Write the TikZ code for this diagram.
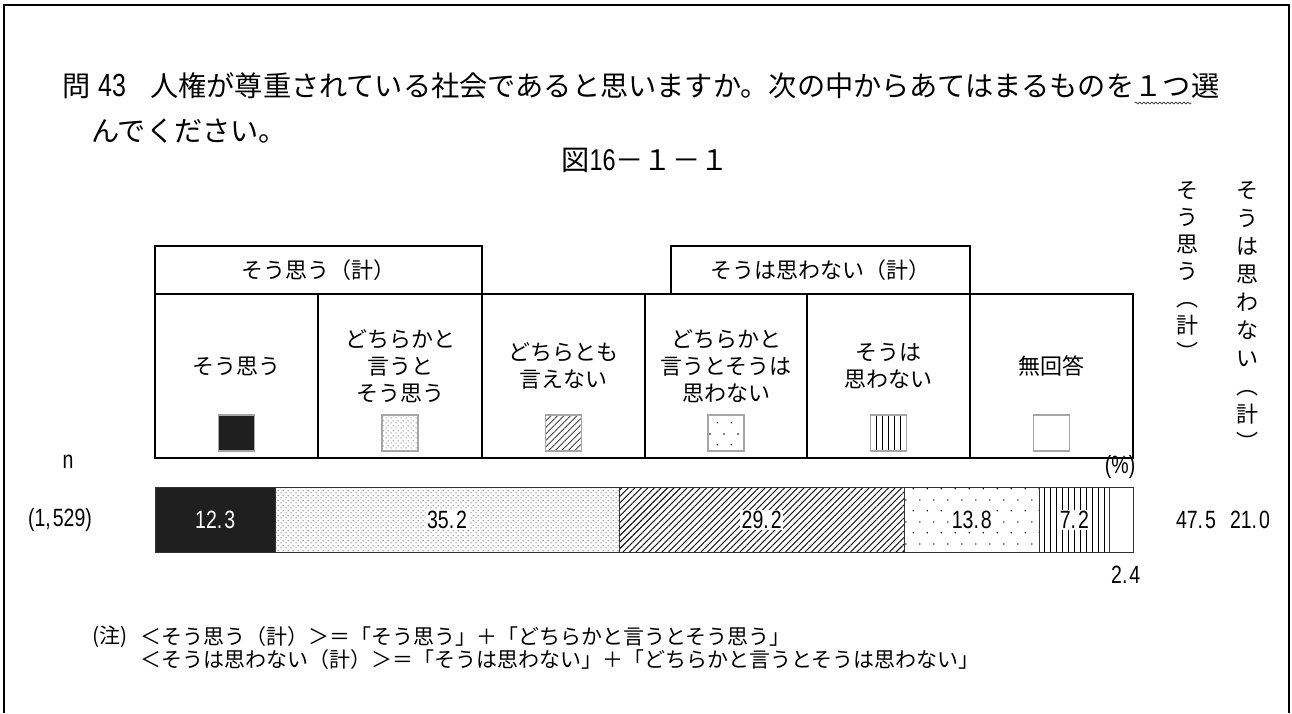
\documentclass[tikz,border=0pt]{standalone}
\usepackage{fontspec}
\setmainfont{Noto Sans CJK JP}
\newfontfamily\num[FakeStretch=0.78]{Liberation Sans}
\usetikzlibrary{patterns,patterns.meta,decorations.pathmorphing,calc}
\pgfdeclarepatternformonly{densedots}{\pgfqpoint{0pt}{0pt}}{\pgfqpoint{5pt}{5pt}}{\pgfqpoint{5pt}{5pt}}{%
  \pgfpathcircle{\pgfqpoint{1.25pt}{1.25pt}}{0.6pt}%
  \pgfpathcircle{\pgfqpoint{3.75pt}{3.75pt}}{0.6pt}%
  \pgfusepath{fill}}
\pgfdeclarepatternformonly{sparsedots}{\pgfqpoint{0pt}{0pt}}{\pgfqpoint{14pt}{22pt}}{\pgfqpoint{14pt}{22pt}}{%
  \pgfpathcircle{\pgfqpoint{3.5pt}{5.5pt}}{0.85pt}%
  \pgfpathcircle{\pgfqpoint{10.5pt}{16.5pt}}{0.85pt}%
  \pgfusepath{fill}}
\tikzset{
  frame/.style={line width=2.5pt},
  box/.style={draw, line width=2.2pt, inner sep=0},
  swatch/.style={draw=black!35, line width=1.6pt, minimum size=36pt, inner sep=0},
  lbl/.style={font=\fontsize{22}{27}\selectfont, align=center, inner sep=0},
  vlbl/.style={font=\fontsize{22}{27}\selectfont, align=center, inner sep=0, anchor=north},
  ttl/.style={font=\fontsize{28.2}{32}\selectfont, inner sep=0, anchor=base west},
  val/.style={font=\num\fontsize{25}{28}\selectfont, inner sep=1.5pt},
  seg/.style={draw=black!80, line width=0.8pt},
  note/.style={font=\fontsize{21}{24}\selectfont, inner sep=0, anchor=west},
  diag/.style={pattern={Lines[angle=45,distance=4.6pt,line width=0.9pt]}},
  vert/.style={pattern={Lines[angle=90,distance=6pt,line width=1pt]}},
}
\begin{document}
\begin{tikzpicture}[x=1pt,y=-1pt]
\useasboundingbox (0,0) rectangle (1292,713);
% outer frame (open at the bottom)
\draw[frame] (4,713) -- (4,5) -- (1289,5) -- (1289,713);

% title
\node[ttl] (q) at (62,96) {問};
\node[ttl, font=\num\fontsize{32}{34}\selectfont] (qn) at (98,96) {43};
\node[ttl] (tA) at (150,96) {人権が尊重されている社会であると思いますか。次の中からあてはまるものを};
\node[ttl] (tB) at (tA.base east) {１つ};
\node[ttl] (tC) at (tB.base east) {選};
\draw[decorate, decoration={snake, amplitude=1pt, segment length=4pt}, line width=0.6pt, draw=black!80]
  ($(tB.base west)+(0,7)$) -- ($(tB.base east)+(0,7)$);
\node[ttl] (t2) at (91,141) {んでください。};
\node[font=\fontsize{28.2}{32}\selectfont, inner sep=0] (fig) at (645,160) {図{\num\fontsize{30}{32}\selectfont 16}－１－１};

% legend headers
\node[box, minimum width=327pt, minimum height=48pt, font=\fontsize{22}{27}\selectfont] (h1) at (318.5,270) {そう思う（計）};
\node[box, minimum width=299pt, minimum height=48pt, font=\fontsize{22}{27}\selectfont] (h2) at (820.5,270) {そうは思わない（計）};

% legend cells
\node[box, minimum width=163pt, minimum height=164pt] (c1) at (236.5,376) {};
\node[box, minimum width=164pt, minimum height=164pt] (c2) at (400,376) {};
\node[box, minimum width=163pt, minimum height=164pt] (c3) at (563.5,376) {};
\node[box, minimum width=162pt, minimum height=164pt] (c4) at (726,376) {};
\node[box, minimum width=163pt, minimum height=164pt] (c5) at (888.5,376) {};
\node[box, minimum width=163pt, minimum height=164pt] (c6) at (1051.5,376) {};

\node[lbl] (l1) at (236.5,366) {そう思う};
\node[lbl] (l2) at (400,366) {どちらかと\\言うと\\そう思う};
\node[lbl] (l3) at (563.5,366) {どちらとも\\言えない};
\node[lbl] (l4) at (726,366) {どちらかと\\言うとそうは\\思わない};
\node[lbl] (l5) at (888.5,366) {そうは\\思わない};
\node[lbl] (l6) at (1051.5,366) {無回答};

\node[swatch, fill=black!88] (s1) at (236.5,433) {};
\node[swatch, pattern=densedots, pattern color=black!75] (s2) at (400,433) {};
\node[swatch, diag, pattern color=black!75] (s3) at (563.5,433) {};
\node[swatch, pattern=sparsedots] (s4) at (726,433) {};
\node[swatch, vert] (s5) at (888.5,433) {};
\node[swatch] (s6) at (1051.5,433) {};

% axis labels
\node[val] (n) at (68,462) {n};
\node[val, anchor=east] (pc) at (1137,467) {(\%)};
\node[val] (nn) at (60,520) {(1,\kern2pt 529)};

% bar
\fill[black!88] (155,487) rectangle (275.2,552);
\draw[seg, pattern=densedots] (275.2,487) rectangle (619.1,552);
\draw[seg, diag] (619.1,487) rectangle (904.4,552);
\draw[seg, pattern=sparsedots] (904.4,487) rectangle (1039.2,552);
\draw[seg, vert] (1039.2,487) rectangle (1109.6,552);
\draw[seg] (1109.6,487) rectangle (1133,552);
\draw[seg] (155,487) rectangle (1133,552);

\node[val, text=white] (v1) at (215.2,520) {12.\kern2pt 3};
\node[val, fill=white] (v2) at (447.1,520) {35.\kern2pt 2};
\node[val, fill=white] (v3) at (761.7,520) {29.\kern2pt 2};
\node[val, fill=white] (v4) at (971.8,520) {13.\kern2pt 8};
\node[val, fill=white] (v5) at (1074.4,520) {7.\kern2pt 2};
\node[val, anchor=east] (v6) at (1142,575) {2.\kern2pt 4};

\node[val] (r1) at (1196,520) {47.\kern2pt 5};
\node[val] (r2) at (1250,520) {21.\kern2pt 0};

% vertical headings
\node[vlbl] (vh1) at (1187,181) {そ\\う\\思\\う\\︵\\計\\︶};
\node[vlbl, font=\fontsize{22}{28}\selectfont] (vh2) at (1247,181) {そ\\う\\は\\思\\わ\\な\\い\\︵\\計\\︶};

% notes
\node[note] (nt0) at (92,637) {(注)};
\node[note] (nt1) at (140,637) {＜そう思う（計）＞＝「そう思う」＋「どちらかと言うとそう思う」};
\node[note] (nt2) at (140,660) {＜そうは思わない（計）＞＝「そうは思わない」＋「どちらかと言うとそうは思わない」};
\end{tikzpicture}
\end{document}
